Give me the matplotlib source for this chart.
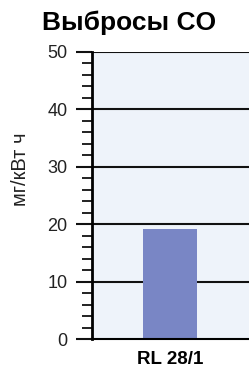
import matplotlib
matplotlib.use("Agg")
import matplotlib.pyplot as plt
from matplotlib.ticker import MultipleLocator

plt.rcParams['font.family'] = ['Liberation Sans', 'DejaVu Sans']

categories = ["RL 28/1"]
values = [19.2]
title = "Выбросы CO"
ylabel = "мг/кВт ч"
yticks = [0, 10, 20, 30, 40, 50]

W, H = 249, 371
fig = plt.figure(figsize=(W/100, H/100), dpi=100)
ax = fig.add_axes([92/W, 1-339/H, (W-92)/W, (339-52)/H])
ax.set_facecolor('#eef3fa')
ax.bar(range(len(categories)), values, width=0.6, color='#7986c5', zorder=1)
ax.set_xlim(-0.867, 0.878)
ax.set_ylim(0, 50)
ax.set_yticks(yticks)
ax.yaxis.set_minor_locator(MultipleLocator(2))
for y in yticks[1:]:
    ax.axhline(y, color='#111111', lw=1.5, zorder=0.5 if y < values[0] else 2)
ax.tick_params(axis='y', which='major', length=11.5, width=1.5, labelsize=13, pad=6,
               color='#111111', labelcolor='#222222')
ax.tick_params(axis='y', which='minor', length=7.2, width=1.3, color='#111111')
ax.set_xticks(range(len(categories)))
ax.set_xticklabels(categories, fontweight='bold', fontsize=13.5)
ax.tick_params(axis='x', length=0, pad=9)
for s in ['top', 'right']:
    ax.spines[s].set_visible(False)
ax.spines['left'].set_linewidth(2)
ax.spines['bottom'].set_linewidth(1.5)
ax.spines['left'].set_zorder(3)
fig.text(129/W, 1-23/H, title, ha='center', va='center', fontsize=19, fontweight='bold')
fig.text(21/W, 1-169/H, ylabel, ha='center', va='center', rotation=90, fontsize=14.5,
         color='#222222')
fig.savefig('out.png', dpi=100)
